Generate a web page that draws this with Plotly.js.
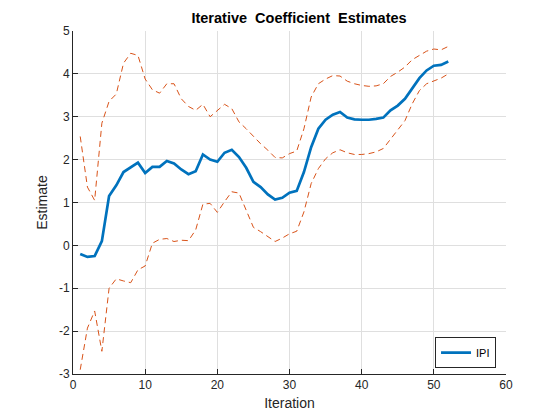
<!DOCTYPE html>
<html>
<head>
<meta charset="utf-8">
<script src="https://cdn.plot.ly/plotly-3.0.1.min.js"></script>
<style>html,body{margin:0;padding:0;background:#fff;}#chart{width:560px;height:420px;}</style>
</head>
<body>
<div id="chart"></div>
<script>
const iterations = Array.from({length: 52}, (_, i) => i + 1);
const estimate = [-0.2, -0.27, -0.25, 0.1, 1.15, 1.4, 1.71, 1.83, 1.93, 1.69,
  1.83, 1.83, 1.97, 1.91, 1.77, 1.66, 1.73, 2.12, 2.0, 1.95,
  2.16, 2.23, 2.06, 1.81, 1.48, 1.36, 1.19, 1.07, 1.11, 1.23,
  1.27, 1.71, 2.29, 2.72, 2.93, 3.05, 3.11, 2.98, 2.94, 2.93,
  2.93, 2.95, 2.98, 3.15, 3.26, 3.42, 3.67, 3.9, 4.08, 4.19,
  4.21, 4.29];
const upper = [2.54, 1.36, 1.05, 2.85, 3.36, 3.53, 4.25, 4.48, 4.43, 3.88,
  3.63, 3.55, 3.77, 3.77, 3.42, 3.24, 3.15, 3.29, 3.0, 3.15,
  3.29, 3.19, 2.88, 2.72, 2.54, 2.37, 2.22, 2.05, 2.04, 2.14,
  2.2, 2.72, 3.46, 3.77, 3.88, 3.96, 3.95, 3.83, 3.77, 3.73,
  3.71, 3.72, 3.77, 3.94, 4.04, 4.16, 4.33, 4.43, 4.53, 4.58,
  4.56, 4.64];
const lower = [-2.9, -1.93, -1.53, -2.47, -1.0, -0.78, -0.83, -0.87, -0.57, -0.48,
  0.05, 0.14, 0.16, 0.09, 0.12, 0.11, 0.36, 0.96, 0.98, 0.77,
  1.02, 1.25, 1.22, 0.8, 0.42, 0.32, 0.2, 0.09, 0.17, 0.27,
  0.33, 0.78, 1.44, 1.79, 2.02, 2.16, 2.23, 2.16, 2.12, 2.12,
  2.14, 2.18, 2.26, 2.47, 2.68, 2.91, 3.3, 3.61, 3.77, 3.84,
  3.9, 4.0];
const seriesName = 'IPI';
const xTicks = [0, 10, 20, 30, 40, 50, 60];
const yTicks = [-3, -2, -1, 0, 1, 2, 3, 4, 5];

const blue = '#0072BD';
const orange = '#D95319';
const font = 'Liberation Sans, Arial, sans-serif';

const traces = [
  {x: iterations, y: upper, type: 'scatter', mode: 'lines', showlegend: false,
   line: {color: orange, width: 1, dash: '6px,4px'}, hoverinfo: 'skip'},
  {x: iterations, y: lower, type: 'scatter', mode: 'lines', showlegend: false,
   line: {color: orange, width: 1, dash: '6px,4px'}, hoverinfo: 'skip'},
  {x: iterations, y: estimate, type: 'scatter', mode: 'lines', name: seriesName,
   line: {color: blue, width: 2.7}}
];

const axisCommon = {
  showgrid: true, gridcolor: '#dfdfdf', gridwidth: 1,
  zeroline: false, showline: true, linecolor: '#262626', linewidth: 1,
  ticks: 'inside', ticklen: 5, tickcolor: '#262626',
  tickfont: {family: font, size: 12, color: '#262626'}
};

const layout = {
  width: 560, height: 420,
  margin: {l: 73, r: 54, t: 31, b: 46},
  paper_bgcolor: '#fff', plot_bgcolor: '#fff',
  title: {text: '<b>Iterative\u00a0 Coefficient\u00a0 Estimates</b>',
          font: {family: font, size: 14.5, color: '#000'},
          x: 0.522, xref: 'paper', y: 0.957, yanchor: 'middle'},
  xaxis: Object.assign({}, axisCommon, {
    range: [0, 60], tickvals: xTicks, ticktext: xTicks.map(String),
    title: {text: 'Iteration', font: {family: font, size: 14, color: '#262626'}, standoff: 6}
  }),
  yaxis: Object.assign({}, axisCommon, {
    range: [-3, 5], tickvals: yTicks, ticktext: yTicks.map(String),
    title: {text: 'Estimate', font: {family: font, size: 14, color: '#262626'}, standoff: 8}
  }),
  legend: {x: 0.977, xanchor: 'right', y: 0.017, yanchor: 'bottom',
           bgcolor: '#fff', bordercolor: '#262626', borderwidth: 1,
           font: {family: font, size: 11, color: '#000'},
           itemwidth: 30, tracegroupgap: 0},
  showlegend: true
};

Plotly.newPlot('chart', traces, layout, {staticPlot: true, displayModeBar: false});
</script>
</body>
</html>
